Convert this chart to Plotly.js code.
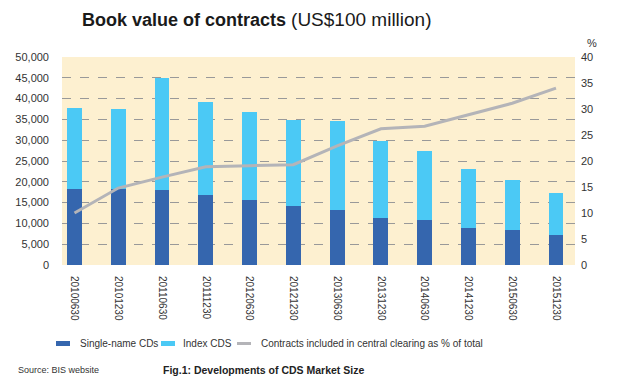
<!DOCTYPE html>
<html>
<head>
<meta charset="utf-8">
<script src="https://cdn.plot.ly/plotly-3.0.1.min.js"></script>
<style>
html,body{margin:0;padding:0;background:#fff;}
#chart{width:635px;height:383px;}
</style>
</head>
<body>
<div id="chart"></div>
<script>
// Data (US$100 million and %)
const periods = ["20100630","20101230","20110630","20111230","20120630","20121230","20130630","20131230","20140630","20141230","20150630","20151230"];
const singleName = [18300, 18200, 18000, 16800, 15600, 14200, 13200, 11200, 10700, 9000, 8300, 7100];
const indexCDS   = [19400, 19200, 27000, 22400, 21100, 20600, 21300, 18500, 16600, 14100, 12100, 10200];
const clearingPct = [10.0, 14.8, 16.9, 18.9, 19.1, 19.3, 22.9, 26.2, 26.7, 28.9, 31.1, 34.0];
const leftTicks = [0,5000,10000,15000,20000,25000,30000,35000,40000,45000,50000];
const rightTicks = [0,5,10,15,20,25,30,35,40];
const seriesNames = ["Single-name CDs", "Index CDS", "Contracts included in central clearing as % of total"];
const seriesColors = ["#3566ae", "#4bc9f5", "#b4b4b8"];

const FONT = "Liberation Sans, Arial, sans-serif";

const traces = [
  {type:"bar", name:seriesNames[0], x:periods, y:singleName, marker:{color:seriesColors[0]}, width:0.34},
  {type:"bar", name:seriesNames[1], x:periods, y:indexCDS, marker:{color:seriesColors[1]}, width:0.34},
  {type:"scatter", mode:"lines", name:seriesNames[2],
   x:periods, y:clearingPct, yaxis:"y2", line:{color:seriesColors[2], width:3}}
];

// plot area: x 62..575, y 57..265 (px)
const PX = x => (x - 62) / 513;
const PY = y => (265 - y) / 208;

const legendShapes = [
  {type:"rect", xref:"paper", yref:"paper", x0:PX(56), x1:PX(70), y0:PY(346), y1:PY(341),
   fillcolor:seriesColors[0], line:{width:0}},
  {type:"rect", xref:"paper", yref:"paper", x0:PX(161), x1:PX(175), y0:PY(346), y1:PY(341),
   fillcolor:seriesColors[1], line:{width:0}},
  {type:"line", xref:"paper", yref:"paper", x0:PX(237), x1:PX(251), y0:PY(343.5), y1:PY(343.5),
   line:{color:seriesColors[2], width:3}}
];
const legendTexts = [[78, seriesNames[0]], [181, seriesNames[1]], [259, seriesNames[2]]].map(([x, t]) => ({
  text:t, xref:"paper", yref:"paper", x:PX(x), y:PY(343), xanchor:"left", yanchor:"middle",
  showarrow:false, font:{family:FONT, size:10, color:"#333"}
}));

const layout = {
  width:635, height:383,
  margin:{l:62, r:60, t:57, b:118},
  paper_bgcolor:"#ffffff",
  plot_bgcolor:"#fdf0d0",
  barmode:"stack",
  showlegend:false,
  title:{text:"<b>Book value of contracts</b> <span style=\"font-size:19px\">(US$100 million)</span>",
         xref:"container", x:82/635, xanchor:"left", y:1 - 20/383, yanchor:"middle",
         font:{family:FONT, size:18, color:"#1a1a1a"}},
  xaxis:{type:"category", range:[-0.285, 11.434], tickangle:90, showgrid:false, zeroline:false,
         showline:false, ticks:"", ticklabelstandoff:10, tickfont:{family:FONT, size:10, color:"#333"}},
  yaxis:{range:[0,50000], tickvals:leftTicks, tickformat:",", showgrid:true, gridcolor:"#999999",
         griddash:"dash", gridwidth:1, zeroline:false, showline:false, ticks:"", ticklabelstandoff:12,
         tickfont:{family:FONT, size:11, color:"#333"}},
  yaxis2:{overlaying:"y", side:"right", range:[0,40], tickvals:rightTicks, showgrid:false, zeroline:false,
          showline:false, ticks:"", ticklabelstandoff:5, tickfont:{family:FONT, size:11, color:"#333"}},
  shapes:legendShapes,
  annotations:[
    {text:"%", xref:"paper", yref:"paper", x:PX(585), y:PY(43), xanchor:"left", yanchor:"middle", showarrow:false,
     font:{family:FONT, size:11, color:"#333"}},
    {text:"Source: BIS website", xref:"paper", yref:"paper", x:PX(16), y:PY(370), xanchor:"left", yanchor:"middle",
     showarrow:false, font:{family:FONT, size:9, color:"#333"}},
    {text:"<b>Fig.1: Developments of CDS Market Size</b>", xref:"paper", yref:"paper", x:PX(161), y:PY(370),
     xanchor:"left", yanchor:"middle", showarrow:false, font:{family:FONT, size:10.5, color:"#222"}}
  ].concat(legendTexts)
};

Plotly.newPlot("chart", traces, layout, {displayModeBar:false, staticPlot:true});
</script>
</body>
</html>
